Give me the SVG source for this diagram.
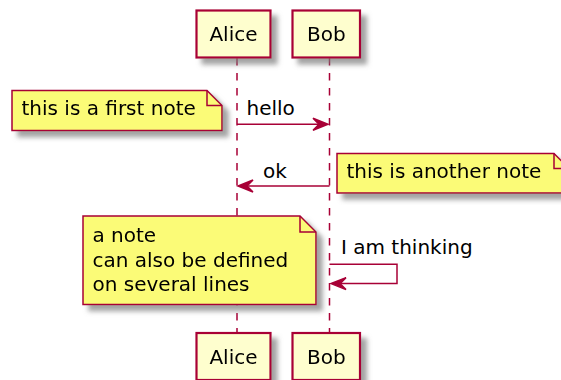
<svg xmlns="http://www.w3.org/2000/svg" width="561" height="380" viewBox="0 0 561 380">
<defs>
<filter id="sh" x="-20%" y="-20%" width="150%" height="150%">
<feGaussianBlur in="SourceAlpha" stdDeviation="2.5"/>
<feOffset dx="6" dy="6" result="b"/>
<feColorMatrix in="b" type="matrix" values="0 0 0 0 0.2  0 0 0 0 0.2  0 0 0 0 0.2  0 0 0 0.7 0" result="c"/>
<feMerge><feMergeNode in="c"/><feMergeNode in="SourceGraphic"/></feMerge>
</filter>
<style>
.part{fill:#FEFECE;stroke:#A80036;stroke-width:2.2}
.note{fill:#FBFB77;stroke:#A80036;stroke-width:1.5}
.fold{fill:none;stroke:#A80036;stroke-width:1.5}
.life{stroke:#A80036;stroke-width:1.5;stroke-dasharray:7.5,7.5;fill:none}
.msg{stroke:#A80036;stroke-width:1.5;fill:none}
.head{fill:#A80036;stroke:#A80036;stroke-width:1.5}
text{font-family:"DejaVu Sans",sans-serif;font-size:20px;fill:#000}
.c{text-anchor:middle}
</style>
</defs>
<rect width="561" height="380" fill="#FFFFFF"/>
<g id="lifelines">
<line class="life" x1="237" y1="58" x2="237" y2="333"/>
<line class="life" x1="329.5" y1="58" x2="329.5" y2="333"/>
</g>
<g id="alice-top" filter="url(#sh)">
<rect class="part" x="196.5" y="10.5" width="74" height="47"/>
<text class="c" x="233.5" y="41">Alice</text>
</g>
<g id="bob-top" filter="url(#sh)">
<rect class="part" x="292.5" y="10.5" width="67.5" height="47"/>
<text class="c" x="326.3" y="41">Bob</text>
</g>
<g id="alice-bottom" filter="url(#sh)">
<rect class="part" x="196.5" y="333" width="74" height="47"/>
<text class="c" x="233.5" y="364">Alice</text>
</g>
<g id="bob-bottom" filter="url(#sh)">
<rect class="part" x="292.5" y="333" width="67.5" height="47"/>
<text class="c" x="326.3" y="364">Bob</text>
</g>
<g id="note1" filter="url(#sh)">
<path class="note" d="M12,90.5 L207,90.5 L222,105.5 L222,130.5 L12,130.5 Z"/>
<path class="fold" d="M207,90.5 L207,105.5 L222,105.5"/>
<text x="21.5" y="115">this is a first note</text>
</g>
<g id="note2" filter="url(#sh)">
<path class="note" d="M337,153.5 L554,153.5 L569,168.5 L569,193 L337,193 Z"/>
<path class="fold" d="M554,153.5 L554,168.5 L569,168.5"/>
<text x="346.5" y="178">this is another note</text>
</g>
<g id="note3" filter="url(#sh)">
<path class="note" d="M83,216 L300,216 L316,232 L316,304.5 L83,304.5 Z"/>
<path class="fold" d="M300,216 L300,232 L316,232"/>
<text x="92.5" y="242.3">a note</text>
<text x="92.5" y="267">can also be defined</text>
<text x="92.5" y="291">on several lines</text>
</g>
<g id="connectors">
<line class="msg" x1="237" y1="124.3" x2="326" y2="124.3"/>
<polygon class="head" points="313,118.3 328,124.3 313,130.3 319,124.3"/>
<text x="246.5" y="115">hello</text>
<line class="msg" x1="329.5" y1="186" x2="240" y2="186"/>
<polygon class="head" points="253,180 238,186 253,192 247,186"/>
<text x="263" y="177.5">ok</text>
<polyline class="msg" points="329.5,264.3 397,264.3 397,283.6 333,283.6"/>
<polygon class="head" points="346,277.6 331,283.6 346,289.6 340,283.6"/>
<text x="341" y="253.5">I am thinking</text>
</g>
</svg>
